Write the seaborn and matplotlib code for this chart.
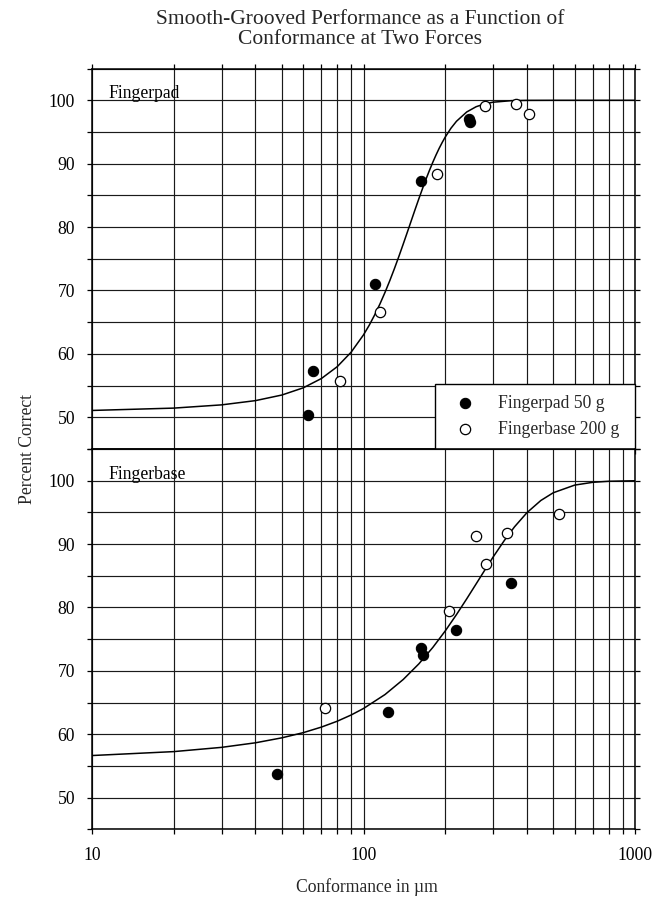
import numpy as np
import pandas as pd
import matplotlib
matplotlib.use("Agg")
import matplotlib.pyplot as plt
from matplotlib.ticker import LogLocator, NullFormatter, MultipleLocator
import matplotlib.transforms as mtransforms
import seaborn as sns

# ---------------- data ----------------
title_lines = ["Smooth-Grooved Performance as a Function of", "Conformance at Two Forces"]
x_label = "Conformance in \u00b5m"
y_label = "Percent Correct"
panel_names = ["Fingerpad", "Fingerbase"]
series_names = ["Fingerpad 50 g", "Fingerbase 200 g"]
x_tick_values = [10, 100, 1000]
x_tick_labels = ["10", "100", "1000"]
y_tick_values = [50, 60, 70, 80, 90, 100]
y_tick_labels = ["50", "60", "70", "80", "90", "100"]

# Panel 1 (Fingerpad)
pad_fp_x = [62.7, 65.0, 110.7, 163.3, 244.7, 246.1]
pad_fp_y = [50.4, 57.3, 71.1, 87.2, 97.1, 96.5]
pad_fb_x = [81.8, 114.6, 186.4, 279.5, 363.8, 405.6]
pad_fb_y = [55.7, 66.6, 88.3, 99.1, 99.4, 97.9]
pad_curve_x = [10, 20, 30, 40, 50, 60, 70, 80, 90, 100, 105, 110, 115, 120, 125,
               130, 135, 140, 145, 150, 155, 160, 165, 170, 175, 180, 185, 190,
               195, 200, 210, 220, 240, 260, 280, 300, 350, 400, 500, 700, 1000]
pad_curve_y = [51.08, 51.45, 51.96, 52.63, 53.51, 54.65, 56.12, 57.98, 60.26, 63.00,
               64.53, 66.17, 67.89, 69.70, 71.56, 73.46, 75.38, 77.30, 79.19, 81.03,
               82.81, 84.50, 86.09, 87.59, 88.96, 90.23, 91.38, 92.43, 93.36, 94.20,
               95.60, 96.69, 98.16, 98.99, 99.45, 99.70, 99.94, 99.99, 100.0, 100.0, 100.0]

# Panel 2 (Fingerbase)
base_fp_x = [48.0, 122.6, 162.3, 166.3, 219.2, 348.6]
base_fp_y = [53.7, 63.45, 73.6, 72.5, 76.45, 83.9]
base_fb_x = [71.9, 205.9, 259.6, 283.5, 338.8, 524.3]
base_fb_y = [64.1, 79.45, 91.2, 86.8, 91.8, 94.75]
base_curve_x = [10, 20, 30, 40, 50, 60, 70, 80, 90, 100, 120, 140, 160, 180, 200,
                220, 240, 260, 280, 300, 330, 360, 400, 450, 500, 600, 700, 800, 1000]
base_curve_y = [56.65, 57.27, 57.94, 58.66, 59.44, 60.26, 61.14, 62.06, 63.04, 64.07,
                66.27, 68.64, 71.12, 73.70, 76.30, 78.88, 81.37, 83.73, 85.93, 87.94,
                90.56, 92.73, 94.96, 96.88, 98.10, 99.31, 99.75, 99.91, 99.99]

# ---------------- style ----------------
sns.set_theme(style="white")
plt.rcParams["font.family"] = ["Liberation Serif", "DejaVu Serif"]

W, H = 665, 898
fig = plt.figure(figsize=(W / 100, H / 100), dpi=100)
fig.patch.set_facecolor("white")

left = 92 / W
width = (635 - 92) / W
h = 380.4 / H
ax_top = fig.add_axes([left, 1 - 449 / H, width, h])
ax_bot = fig.add_axes([left, 1 - 829.4 / H, width, h])

FS = 12.7
GRID_C = "#1a1a1a"

panels = [
    (ax_top, pad_fp_x, pad_fp_y, pad_fb_x, pad_fb_y, pad_curve_x, pad_curve_y, panel_names[0]),
    (ax_bot, base_fp_x, base_fp_y, base_fb_x, base_fb_y, base_curve_x, base_curve_y, panel_names[1]),
]

for i, (ax, fx, fy, ox, oy, cx, cy, pname) in enumerate(panels):
    ax.set_facecolor("white")
    df_curve = pd.DataFrame({"x": cx, "y": cy})
    df_f = pd.DataFrame({"x": fx, "y": fy})
    df_o = pd.DataFrame({"x": ox, "y": oy})
    sns.lineplot(data=df_curve, x="x", y="y", ax=ax, color="black", linewidth=1.1,
                 estimator=None, sort=True, zorder=3)
    sns.scatterplot(data=df_f, x="x", y="y", ax=ax, color="black", edgecolor="black",
                    s=55, linewidth=0.8, zorder=4, legend=False, label=series_names[0])
    sns.scatterplot(data=df_o, x="x", y="y", ax=ax, color="white", edgecolor="black",
                    s=55, linewidth=0.9, zorder=4, legend=False, label=series_names[1])

    ax.set_xscale("log")
    ax.set_xlim(10, 1000)
    ax.set_ylim(45, 105)
    ax.xaxis.set_major_locator(LogLocator(base=10))
    ax.xaxis.set_minor_locator(LogLocator(base=10, subs=np.arange(2, 10)))
    ax.xaxis.set_minor_formatter(NullFormatter())
    ax.set_xticks(x_tick_values)
    if i == 1:
        ax.set_xticklabels(x_tick_labels)
    else:
        ax.set_xticklabels([])
    ax.set_yticks(y_tick_values)
    ax.set_yticklabels(y_tick_labels)
    ax.yaxis.set_minor_locator(MultipleLocator(5))

    ax.grid(True, which="both", axis="both", color=GRID_C, linewidth=0.85, zorder=1)
    ax.set_axisbelow(True)
    for sp in ax.spines.values():
        sp.set_color("black")
        sp.set_linewidth(1.1)

    ax.tick_params(which="both", direction="out", length=3.6, width=0.9, color="black",
                   top=(i == 0), right=True, bottom=True, left=True,
                   labelsize=FS, labelcolor="black")
    ax.tick_params(axis="y", which="both", pad=8.5)
    ax.tick_params(axis="x", which="both", pad=9.3)
    ax.set_xlabel("")
    ax.set_ylabel("")

    trans = mtransforms.blended_transform_factory(ax.transAxes, ax.transData)
    ax.text(16 / 543, 100.3, pname, transform=trans, ha="left", va="baseline",
            fontsize=FS, color="black", zorder=5)

# legend box: left edge at x=435 px, right edge on the right spine
leg_x0 = (435 - 92) / 543
leg_w = (635 - 435) / 543
leg = ax_top.legend(loc="lower left", bbox_to_anchor=(leg_x0, 0.0, leg_w, 0.2),
                    mode="expand", borderaxespad=0,
                    frameon=True, fancybox=False, framealpha=1, edgecolor="black",
                    facecolor="white", fontsize=FS, borderpad=0.65, labelspacing=0.48,
                    handlelength=2.1, handletextpad=0.8, scatterpoints=1)
leg.get_frame().set_linewidth(1.0)
leg.set_zorder(10)

TFS = 15.5
fig.text(360 / W, 1 - 24 / H, title_lines[0], ha="center", va="baseline", fontsize=TFS)
fig.text(360 / W, 1 - 44 / H, title_lines[1], ha="center", va="baseline", fontsize=TFS)
fig.text(27 / W, 0.5, y_label, rotation=90, ha="center", va="center", fontsize=FS)
fig.text(367 / W, 1 - 887 / H, x_label, ha="center", va="center", fontsize=FS)

fig.savefig("out.png", dpi=100, facecolor="white")
